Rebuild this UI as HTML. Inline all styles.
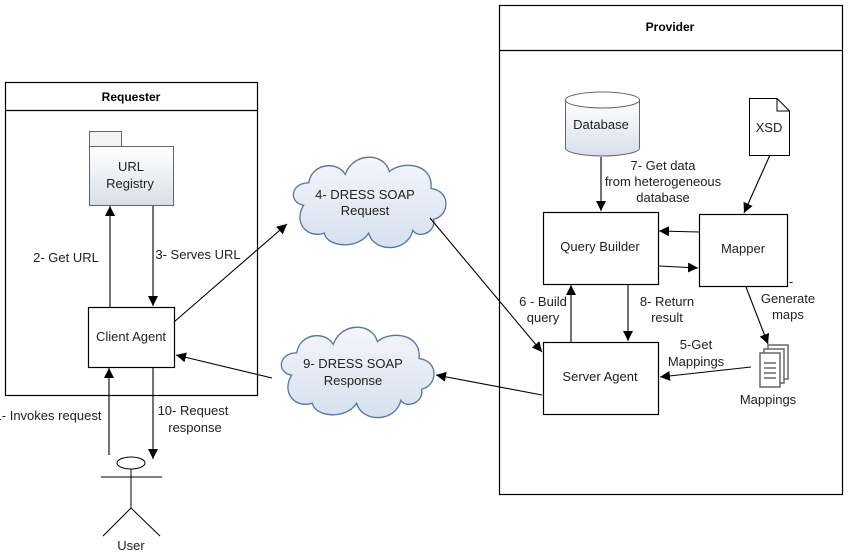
<!DOCTYPE html>
<html><head><style>body{margin:0;background:#fff}svg{display:block;font-family:"Liberation Sans",sans-serif;font-size:13px;fill:#222}</style></head><body>
<svg width="850" height="556" viewBox="0 0 850 556" xmlns="http://www.w3.org/2000/svg">
<defs>
<marker id="a" viewBox="0 0 10 10" refX="10" refY="5" markerWidth="10" markerHeight="10" markerUnits="userSpaceOnUse" orient="auto"><path d="M0,0L10,5L0,10z" fill="#000"/></marker>
<linearGradient id="g" x1="0" y1="0" x2="0" y2="1"><stop offset="0" stop-color="#fff"/><stop offset="1" stop-color="#d8dee9"/></linearGradient>
<linearGradient id="c" x1="0" y1="0" x2="0" y2="1"><stop offset="0" stop-color="#f4f6fb"/><stop offset="1" stop-color="#d6e0ef"/></linearGradient>
<g id="cloud"><path d="M12,38 C0,36 2,22 16,22 C18,8 38,6 44,16 C50,0 74,0 78,14 C88,6 112,8 110,26 C126,28 124,46 112,48 C114,58 100,62 96,56 C92,72 66,72 62,58 C54,70 30,68 28,58 C14,62 4,50 12,38 Z" fill="url(#c)" stroke="#5677a8" stroke-width="1"/></g>
</defs>
<g fill="none" stroke="#000" stroke-width="1.2">
<rect x="5.5" y="82.5" width="252" height="313"/><line x1="5" y1="110.5" x2="257" y2="110.5"/>
<rect x="499.5" y="5.5" width="343" height="489"/><line x1="499" y1="50.5" x2="842" y2="50.5"/>
<rect x="88.5" y="307.5" width="86" height="60" fill="#fff"/>
<rect x="543.5" y="212.5" width="115" height="72" fill="#fff"/>
<rect x="699.5" y="214.5" width="88" height="72" fill="#fff"/>
<rect x="543.5" y="342.5" width="115" height="72" fill="#fff"/>
</g>
<g stroke="#666" stroke-width="1">
<rect x="89.5" y="131.5" width="32" height="15" fill="#f3f3f3"/>
<rect x="89.5" y="146.5" width="84" height="59" fill="url(#g)"/>
<path d="M565.5,100 L565.5,148 A37,8 0 0 0 639.5,148 L639.5,100 Z" fill="url(#g)"/>
<ellipse cx="602.5" cy="100" rx="37" ry="8" fill="#fff"/>
</g>
<path d="M749.5,98.5 L777,98.5 L789.5,111 L789.5,155.5 L749.5,155.5 Z M777,98.5 L777,111 L789.5,111" fill="#fff" stroke="#000"/>
<g transform="translate(760,349)" fill="#fff" stroke="#666" stroke-width="1.5">
<rect x="8" y="-4" width="20" height="34"/><rect x="4" y="0" width="20" height="34"/><rect x="0" y="4" width="20" height="34"/>
<path d="M4,14h12M4,19h12M4,24h12M4,29h12" stroke-width="1.5"/></g>
<use href="#cloud" transform="translate(288,152) scale(1.3,1.4)"/>
<use href="#cloud" transform="translate(276,322) scale(1.3,1.4)"/>
<g stroke="#000" stroke-width="1.1" marker-end="url(#a)">
<line x1="110" y1="307" x2="110" y2="206"/>
<line x1="153" y1="206" x2="153" y2="306"/>
<line x1="174" y1="322" x2="287" y2="224"/>
<line x1="272" y1="378" x2="176" y2="355"/>
<line x1="542" y1="395" x2="436" y2="375"/>
<line x1="430" y1="218" x2="542" y2="352"/>
<line x1="109" y1="455" x2="109" y2="368"/>
<line x1="153" y1="367" x2="153" y2="459"/>
<line x1="601" y1="157" x2="601" y2="211"/>
<line x1="770" y1="155" x2="744" y2="213"/>
<line x1="699" y1="232" x2="659" y2="231"/>
<line x1="659" y1="266" x2="698" y2="268"/>
<line x1="746" y1="287" x2="768" y2="344"/>
<line x1="628" y1="284" x2="628" y2="341"/>
<line x1="571" y1="342" x2="571" y2="285"/>
<line x1="751" y1="367" x2="660" y2="377"/>
</g>
<g stroke="#000" fill="none">
<ellipse cx="131" cy="463" rx="14" ry="6"/>
<line x1="131" y1="469" x2="131" y2="508"/><line x1="101" y1="477" x2="162" y2="477"/>
<path d="M103,536 L131,508 L160,536"/>
</g>
<g text-anchor="middle">
<text x="131" y="101" font-weight="bold" fill="#000" font-size="12">Requester</text>
<text x="670" y="31" font-weight="bold" fill="#000" font-size="12">Provider</text>
<text x="131" y="171">URL</text><text x="130" y="188">Registry</text>
<text x="131" y="341">Client Agent</text>
<text x="66" y="262">2- Get URL</text>
<text x="198" y="259">3- Serves URL</text>
<text x="365" y="199">4- DRESS SOAP</text><text x="365" y="215">Request</text>
<text x="353" y="368">9- DRESS SOAP</text><text x="353" y="385">Response</text>
<text x="48" y="420">1- Invokes request</text>
<text x="193" y="415">10- Request</text><text x="195" y="432">response</text>
<text x="131" y="550">User</text>
<text x="601" y="129">Database</text>
<text x="769" y="132">XSD</text>
<text x="600" y="251">Query Builder</text>
<text x="743" y="253">Mapper</text>
<text x="600" y="381">Server Agent</text>
<text x="663" y="170">7- Get data</text><text x="663" y="186">from heterogeneous</text><text x="663" y="202">database</text>
<text x="543" y="306">6 - Build</text><text x="543" y="322">query</text>
<text x="667" y="306">8- Return</text><text x="667" y="322">result</text>
<text x="788" y="303">Generate</text><text x="788" y="319">maps</text><text x="791" y="286">-</text>
<text x="696" y="349">5-Get</text><text x="696" y="366">Mappings</text>
<text x="768" y="404">Mappings</text>
</g>
</svg>
</body></html>
